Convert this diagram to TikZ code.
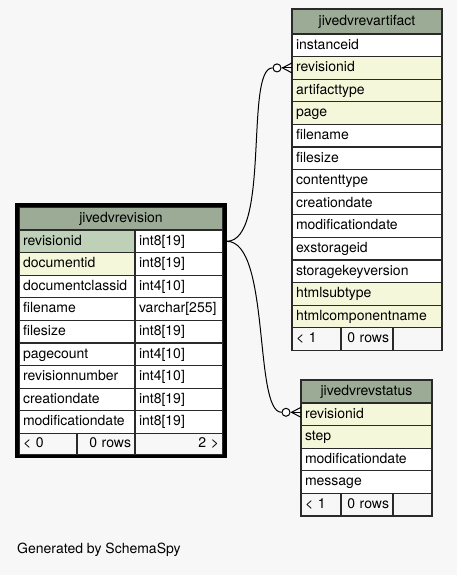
\documentclass[tikz,border=0pt]{standalone}
\usepackage{fontspec}
\setmainfont{TeX Gyre Heros}
\usepackage{tikz}
\usetikzlibrary{positioning,calc,fit}
\definecolor{spBack}{HTML}{F7F7F7}
\definecolor{spHead}{HTML}{9BAB96}
\definecolor{spKey}{HTML}{BED1B8}
\definecolor{spIndex}{HTML}{F4F7DA}
\definecolor{spLine}{HTML}{2A2A2A}
\newcommand{\cellfont}{\fontsize{14}{16}\selectfont}
\tikzset{
    spCell/.style={
        draw=spLine,
        line width=1.3pt,
        fill=white,
        minimum height=22.6pt,
        inner xsep=4pt,
        inner ysep=0pt,
        outer sep=0pt,
        text height=10.5pt,
        text depth=3pt,
        font=\cellfont
    },
    % header, field and footer cells
    spHeadCell/.style={spCell, fill=spHead, align=center, text width=#1},
    spField/.style={spCell, align=left, text width=#1},
    spFoot/.style={spCell, fill=spBack, align=left, text width=#1},
    spFootR/.style={spCell, fill=spBack, align=right, text width=#1},
    % relation ends
    spOdot/.style={circle, draw=black, fill=white, line width=1pt, minimum size=8pt, inner sep=0pt},
    spRel/.style={draw=black, line width=1pt}
}
\begin{document}
\begin{tikzpicture}[x=1pt, y=-1pt]
\fill[spBack] (0,0) rectangle (457,575);
\useasboundingbox (0,0) rectangle (457,575);

% jivedvrevision
\node[spHeadCell=196pt, minimum height=23pt, anchor=north west] (rvHead) at (19,207) {jivedvrevision};
\node[spField=108pt, fill=spKey, anchor=north west] (rvRevid) at (rvHead.south west) {revisionid};
\node[spField=80pt, right=0pt of rvRevid] (rvRevidT) {int8[19]};
\node[spField=108pt, fill=spIndex, below=0pt of rvRevid] (rvDocid) {documentid};
\node[spField=80pt, right=0pt of rvDocid] (rvDocidT) {int8[19]};
\node[spField=108pt, below=0pt of rvDocid] (rvClass) {documentclassid};
\node[spField=80pt, right=0pt of rvClass] (rvClassT) {int4[10]};
\node[spField=108pt, below=0pt of rvClass] (rvFile) {filename};
\node[spField=80pt, right=0pt of rvFile] (rvFileT) {varchar[255]};
\node[spField=108pt, below=0pt of rvFile] (rvSize) {filesize};
\node[spField=80pt, right=0pt of rvSize] (rvSizeT) {int8[19]};
\node[spField=108pt, below=0pt of rvSize] (rvPages) {pagecount};
\node[spField=80pt, right=0pt of rvPages] (rvPagesT) {int4[10]};
\node[spField=108pt, below=0pt of rvPages] (rvNum) {revisionnumber};
\node[spField=80pt, right=0pt of rvNum] (rvNumT) {int4[10]};
\node[spField=108pt, below=0pt of rvNum] (rvCreate) {creationdate};
\node[spField=80pt, right=0pt of rvCreate] (rvCreateT) {int8[19]};
\node[spField=108pt, below=0pt of rvCreate] (rvMod) {modificationdate};
\node[spField=80pt, right=0pt of rvMod] (rvModT) {int8[19]};
\node[spFoot=50pt, minimum height=21pt, anchor=north west] (rvFootL) at (rvMod.south west) {< 0};
\node[spFootR=50pt, minimum height=21pt, right=0pt of rvFootL] (rvFootM) {0 rows};
\node[spFootR=80pt, minimum height=21pt, right=0pt of rvFootM] (rvFootR) {2 >};
\node[draw=black, line width=3.5pt, inner sep=2pt, fit=(rvHead)(rvFootR)] (rvFrame) {};

% jivedvrevartifact
\node[spHeadCell=142pt, minimum height=25pt, anchor=north west] (arHead) at (292,9) {jivedvrevartifact};
\node[spField=142pt, anchor=north west] (arInst) at (arHead.south west) {instanceid};
\node[spField=142pt, fill=spIndex, below=0pt of arInst] (arRevid) {revisionid};
\node[spField=142pt, fill=spIndex, below=0pt of arRevid] (arType) {artifacttype};
\node[spField=142pt, fill=spIndex, below=0pt of arType] (arPage) {page};
\node[spField=142pt, below=0pt of arPage] (arFile) {filename};
\node[spField=142pt, below=0pt of arFile] (arSize) {filesize};
\node[spField=142pt, below=0pt of arSize] (arContent) {contenttype};
\node[spField=142pt, below=0pt of arContent] (arCreate) {creationdate};
\node[spField=142pt, below=0pt of arCreate] (arMod) {modificationdate};
\node[spField=142pt, below=0pt of arMod] (arStore) {exstorageid};
\node[spField=142pt, below=0pt of arStore] (arKey) {storagekeyversion};
\node[spField=142pt, fill=spIndex, below=0pt of arKey] (arSub) {htmlsubtype};
\node[spField=142pt, fill=spIndex, below=0pt of arSub] (arComp) {htmlcomponentname};
\node[spFoot=41pt, anchor=north west] (arFootL) at (arComp.south west) {< 1};
\node[spFootR=44pt, right=0pt of arFootL] (arFootM) {0 rows};
\node[spFootR=41pt, right=0pt of arFootM] (arFootR) {};

% jivedvrevstatus
\node[spHeadCell=123pt, minimum height=23pt, anchor=north west] (stHead) at (301,380) {jivedvrevstatus};
\node[spField=123pt, fill=spIndex, anchor=north west] (stRevid) at (stHead.south west) {revisionid};
\node[spField=123pt, fill=spIndex, below=0pt of stRevid] (stStep) {step};
\node[spField=123pt, below=0pt of stStep] (stMod) {modificationdate};
\node[spField=123pt, below=0pt of stMod] (stMsg) {message};
\node[spFoot=32pt, anchor=north west] (stFootL) at (stMsg.south west) {< 1};
\node[spFootR=44pt, right=0pt of stFootL] (stFootM) {0 rows};
\node[spFootR=31pt, right=0pt of stFootM] (stFootR) {};

% relations
\node[spOdot] (odArt) at ($(arRevid.west)+(-15,0)$) {};
\node[spOdot] (odSt) at ($(stRevid.west)+(-15,-2)$) {};
\draw[spRel] (rvFrame.east |- rvRevidT.east) .. controls +(44,0) and +(-28,0) .. (odArt.west);
\draw[spRel] (rvFrame.east |- rvRevidT.east) .. controls +(44,0) and +(-28,0) .. (odSt.west);
\draw[spRel] (odArt.east) -- (arRevid.west);
\draw[spRel] ($(odArt.east)+(1,0)$) -- ($(arRevid.west)+(0,-5)$);
\draw[spRel] ($(odArt.east)+(1,0)$) -- ($(arRevid.west)+(0,5)$);
\draw[spRel] (odSt.east) -- (odSt.east -| stRevid.west);
\draw[spRel] ($(odSt.east)+(1,0)$) -- ($(odSt.east -| stRevid.west)+(0,-5)$);
\draw[spRel] ($(odSt.east)+(1,0)$) -- ($(odSt.east -| stRevid.west)+(0,5)$);

\node[font=\cellfont, anchor=base west, inner sep=0pt] (gen) at (17,553) {Generated by SchemaSpy};
\end{tikzpicture}
\end{document}
